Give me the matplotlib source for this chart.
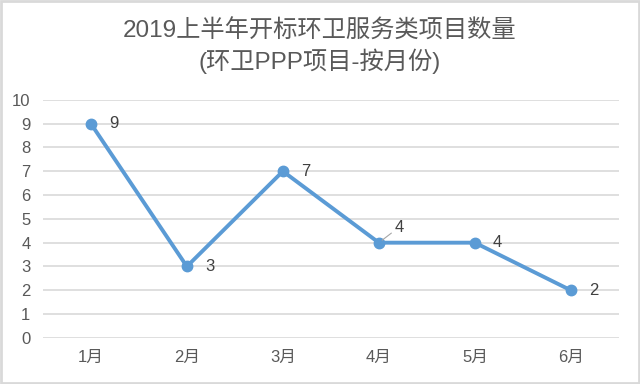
import matplotlib.pyplot as plt
from matplotlib.patches import Rectangle

plt.rcParams['font.family'] = ['Liberation Sans', 'Noto Sans CJK SC', 'DejaVu Sans']

months = ['1月', '2月', '3月', '4月', '5月', '6月']
counts = [9, 3, 7, 4, 4, 2]
yticks = list(range(0, 11))

text_color = '#595959'
line_color = '#5B9BD5'

fig = plt.figure(figsize=(6.4, 3.84), dpi=100)
ax = fig.add_axes([0.067, 0.12, 0.9, 0.62])

x = list(range(len(months)))
ax.plot(x, counts, color=line_color, lw=2.8, marker='o', ms=7.5, zorder=3)

# data labels, the 4月 one sits above with a small leader line
for i, v in enumerate(counts):
    if i == 3:
        ax.annotate(str(v), xy=(i, v), xytext=(11, 11), textcoords='offset points',
                    fontsize=12, color='#404040', ha='left', va='center',
                    arrowprops=dict(arrowstyle='-', color='#a6a6a6', lw=0.8, shrinkA=0, shrinkB=3))
    else:
        ax.annotate(str(v), xy=(i, v), xytext=(13, 0), textcoords='offset points',
                    fontsize=12, color='#404040', ha='left', va='center')

ax.set_xlim(-0.5, len(months) - 0.5)
ax.set_ylim(0, 10)
ax.set_yticks(yticks)
ax.set_xticks(x)
ax.set_xticklabels(months)
ax.tick_params(axis='both', length=0, labelsize=12, colors=text_color)
ax.tick_params(axis='y', pad=9)
ax.tick_params(axis='x', pad=9)
ax.grid(axis='y', color='#d9d9d9', lw=1.2)
ax.set_axisbelow(True)
for s in ax.spines.values():
    s.set_visible(False)

fig.text(0.5, 0.92, '2019上半年开标环卫服务类项目数量', ha='center', va='center',
         fontsize=17.5, color=text_color)
fig.text(0.5, 0.84, '(环卫PPP项目-按月份)', ha='center', va='center',
         fontsize=17.5, color=text_color)

fig.patches.append(Rectangle((0.002, 0.003), 0.996, 0.994, transform=fig.transFigure,
                             fill=False, ec='#d9d9d9', lw=2))

fig.savefig('out.png', dpi=100)
